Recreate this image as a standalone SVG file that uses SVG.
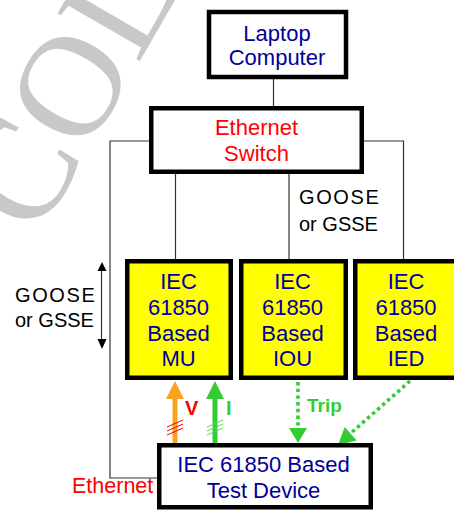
<svg xmlns="http://www.w3.org/2000/svg" width="454" height="510" viewBox="0 0 454 510">
<style>
.box{fill:#ffffff;stroke:#000000;stroke-width:4.5}
.ybox{fill:#ffff00;stroke:#000000;stroke-width:4.5}
.t{font-family:"Liberation Sans",Arial,sans-serif;font-size:22px;text-anchor:middle}
.blue{fill:#000099}
.red{fill:#ff0000}
.lbl{font-family:"Liberation Sans",Arial,sans-serif;font-size:20px;fill:#000000}
.conn{fill:none;stroke:#333333;stroke-width:1.2}
.dot{fill:none;stroke:#33cc33;stroke-width:3.6;stroke-dasharray:3.4 3.3}
</style>
<text x="0" y="0" transform="translate(37,239) rotate(-60)" font-family="'Liberation Serif',serif" font-size="145" fill="#c8c8c8">COL</text>
<g id="connectors">
<line class="conn" x1="273.5" y1="79" x2="273.5" y2="106"/>
<polyline class="conn" points="149,141 110,141 110,478 157,478"/>
<line class="conn" x1="175.5" y1="174" x2="175.5" y2="259"/>
<line class="conn" x1="289" y1="174" x2="289" y2="259"/>
<polyline class="conn" points="364,141 403.5,141 403.5,259"/>
<line x1="101.5" y1="268" x2="101.5" y2="342" stroke="#333333" stroke-width="1.2"/>
<polygon points="102,262 97.5,271 106.5,271" fill="#000000"/>
<polygon points="102,349 97.5,339 106.5,339" fill="#000000"/>
<line x1="175" y1="443" x2="175" y2="398" stroke="#f7a520" stroke-width="5"/>
<polygon points="166,399 184,399 175,381" fill="#f7a520"/>
<line x1="215" y1="443" x2="215" y2="398" stroke="#33cc33" stroke-width="5"/>
<polygon points="206,399 224,399 215,381" fill="#33cc33"/>
<g stroke="#ff0000" stroke-width="1">
<line x1="167" y1="427" x2="183" y2="420"/>
<line x1="167" y1="431" x2="183" y2="424"/>
<line x1="167" y1="435" x2="183" y2="428"/>
</g>
<g stroke="#55dd55" stroke-width="1">
<line x1="207" y1="427" x2="223" y2="420"/>
<line x1="207" y1="431" x2="223" y2="424"/>
<line x1="207" y1="435" x2="223" y2="428"/>
</g>
<line class="dot" x1="298" y1="382" x2="298" y2="428"/>
<polygon points="289,428 307,428 298,443" fill="#33cc33"/>
<line class="dot" x1="410" y1="381" x2="351" y2="433"/>
<polygon points="338,445 356.7,440.4 344.7,427" fill="#33cc33"/>
</g>
<g id="laptop">
<rect class="box" x="209" y="12" width="137" height="65"/>
<text class="t blue" x="277" y="41">Laptop</text>
<text class="t blue" x="277" y="65">Computer</text>
</g>
<g id="switch">
<rect class="box" x="151.25" y="108.25" width="210.5" height="63.5"/>
<text class="t red" x="256.5" y="135">Ethernet</text>
<text class="t red" x="256.5" y="161">Switch</text>
</g>
<g id="mu">
<rect class="ybox" x="127.25" y="261.25" width="103.5" height="116.5"/>
<text class="t blue" x="178.5" y="289">IEC</text>
<text class="t blue" x="178.5" y="315">61850</text>
<text class="t blue" x="178.5" y="341">Based</text>
<text class="t blue" x="178.5" y="366">MU</text>
</g>
<g id="iou">
<rect class="ybox" x="241.25" y="261.25" width="104.5" height="116.5"/>
<text class="t blue" x="292.5" y="289">IEC</text>
<text class="t blue" x="292.5" y="315">61850</text>
<text class="t blue" x="292.5" y="341">Based</text>
<text class="t blue" x="292.5" y="366">IOU</text>
</g>
<g id="ied">
<rect class="ybox" x="355.25" y="261.25" width="110" height="116.5"/>
<text class="t blue" x="406" y="289">IEC</text>
<text class="t blue" x="406" y="315">61850</text>
<text class="t blue" x="406" y="341">Based</text>
<text class="t blue" x="406" y="366">IED</text>
</g>
<g id="testdevice">
<rect class="box" x="159.25" y="445.25" width="211.5" height="62"/>
<text class="t blue" x="263.5" y="472">IEC 61850 Based</text>
<text class="t blue" x="263.5" y="498">Test Device</text>
</g>
<g id="labels">
<text class="lbl" x="299" y="204" letter-spacing="1.6">GOOSE</text>
<text class="lbl" x="299" y="231">or GSSE</text>
<text class="lbl" x="15" y="302" letter-spacing="1.6">GOOSE</text>
<text class="lbl" x="15" y="327">or GSSE</text>
<text x="185" y="415" font-family="'Liberation Sans',Arial,sans-serif" font-size="20" font-weight="bold" fill="#ff0000">V</text>
<text x="226" y="415" font-family="'Liberation Sans',Arial,sans-serif" font-size="20" font-weight="bold" fill="#33cc33">I</text>
<text x="307" y="412" font-family="'Liberation Sans',Arial,sans-serif" font-size="19" font-weight="bold" fill="#33cc33">Trip</text>
<text x="72" y="493" font-family="'Liberation Sans',Arial,sans-serif" font-size="21.5" fill="#ff0000">Ethernet</text>
</g>
</svg>
